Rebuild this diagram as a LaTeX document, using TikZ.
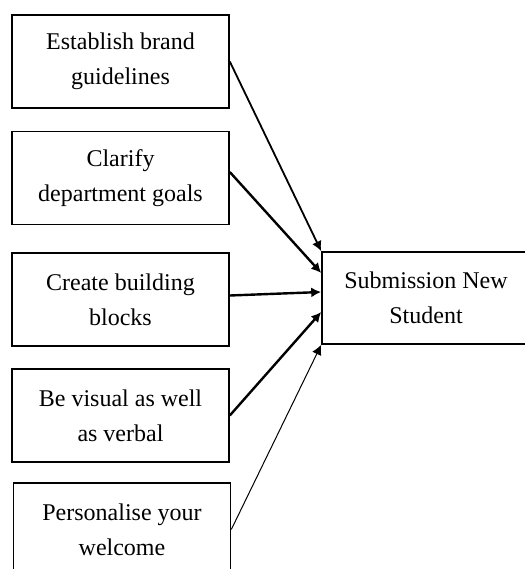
\documentclass[tikz,border=0pt]{standalone}
\usepackage{fontspec}
\setmainfont{Liberation Serif}
\usetikzlibrary{shapes, arrows.meta}

\begin{document}
\begin{tikzpicture}[x=0.5pt,y=-0.5pt]

\tikzstyle{idea}=[rectangle, draw, line width=0.8pt, align=center, minimum width=108.5pt, minimum height=46.5pt, inner sep=0pt, font=\fontsize{12}{17.5}\selectfont]
\tikzstyle{goal}=[rectangle, draw, line width=0.8pt, align=center, minimum width=104pt, minimum height=46pt, inner sep=0pt, font=\fontsize{12}{17.5}\selectfont]
\tikzstyle{link}=[-{Latex[length=5pt,width=5pt]}, black]

	\useasboundingbox (0,0) rectangle (525,569);
	\clip (0,0) rectangle (525,569);

  	\node[idea] (b1) at (120.5,61.5)  {Establish brand\\guidelines};
	\node[idea] (b2) at (120.5,178)   {Clarify\\department goals};
	\node[idea] (b3) at (120.5,299.5) {Create building\\blocks};
	\node[idea] (b4) at (120.5,415.5) {Be visual as well\\as verbal};
	\node[idea] (b5) at (122,529.5)   {Personalise your\\welcome};

	\node[goal] (s) at (426,298) {Submission New\\Student};

	 % links to the goal
  	\draw[link, line width=0.9pt] (b1.east) -- (s.north west);
	\draw[link, line width=1.2pt] ([yshift=3pt]b2.east) -- ([yshift=12.5pt]s.west);
	\draw[link, line width=1.2pt] ([yshift=2pt]b3.east) -- ([yshift=3pt]s.west);
	\draw[link, line width=1.2pt] (b4.east) -- ([yshift=-7pt]s.west);
	\draw[link, line width=0.5pt] (b5.east) -- (s.south west);
\end{tikzpicture}
\end{document}
